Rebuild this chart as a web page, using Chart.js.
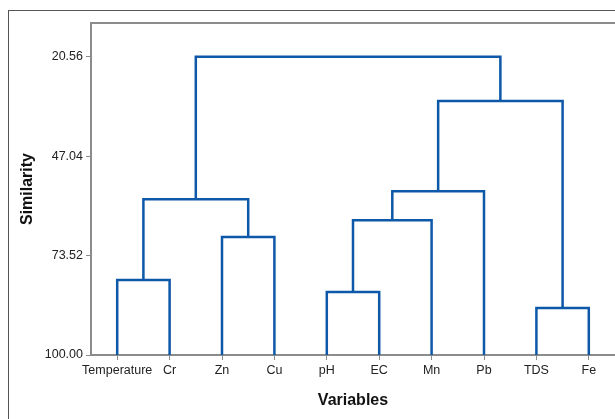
<!DOCTYPE html>
<html>
<head>
<meta charset="utf-8">
<script src="https://cdn.jsdelivr.net/npm/chart.js@4.4.1/dist/chart.umd.min.js"></script>
<style>
  html, body { margin: 0; padding: 0; background: #fff; overflow: hidden; }
  canvas { display: block; }
</style>
</head>
<body>
<canvas id="dendro" width="615" height="419"></canvas>
<script>
// Leaves, in the order they appear along the axis
const variables = ['Temperature', 'Cr', 'Zn', 'Cu', 'pH', 'EC', 'Mn', 'Pb', 'TDS', 'Fe'];

// Merge steps: node 10 + i joins mergeLeft[i] and mergeRight[i] at mergeHeight[i]
const mergeLeft   = [8, 4, 0, 2, 11, 12, 14, 16, 15];
const mergeRight  = [9, 5, 1, 3, 6, 13, 7, 10, 17];
const mergeHeight = [87.5, 83.2, 80.0, 68.6, 64.1, 58.5, 56.4, 32.4, 20.56];

const yTicks = [20.56, 47.04, 73.52, 100.00];

const LINE_COLOR = '#0d58a8';
const AXIS_COLOR = '#8c8c8c';
const FONT = 'Liberation Sans, Arial, sans-serif';

// position / height of each node (leaves sit at similarity 100)
const nodeX = variables.map((_, i) => i);
const nodeY = variables.map(() => 100);
const links = [];
mergeLeft.forEach((l, i) => {
    const r = mergeRight[i];
    const h = mergeHeight[i];
    links.push([
        { x: nodeX[l], y: nodeY[l] },
        { x: nodeX[l], y: h },
        { x: nodeX[r], y: h },
        { x: nodeX[r], y: nodeY[r] }
    ]);
    nodeX.push((nodeX[l] + nodeX[r]) / 2);
    nodeY.push(h);
});

const framePlugin = {
    id: 'frames',
    beforeDraw(chart) {
        const { ctx, chartArea } = chart;
        ctx.save();
        // outer frame (runs off the right/bottom edge)
        ctx.strokeStyle = '#555';
        ctx.lineWidth = 1;
        ctx.strokeRect(8.5, 10.5, 1000, 1000);
        // top edge of the plot box
        ctx.strokeStyle = AXIS_COLOR;
        ctx.lineWidth = 2;
        ctx.beginPath();
        ctx.moveTo(chartArea.left - 1, chartArea.top);
        ctx.lineTo(chartArea.right + 10, chartArea.top);
        ctx.stroke();
        ctx.restore();
    }
};

new Chart(document.getElementById('dendro'), {
    type: 'line',
    data: {
        datasets: links.map(pts => ({
            data: pts,
            borderColor: LINE_COLOR,
            borderWidth: 2.5,
            pointRadius: 0,
            tension: 0,
            fill: false,
            borderJoinStyle: 'miter'
        }))
    },
    options: {
        responsive: false,
        animation: false,
        layout: { padding: { top: 23, left: 0, right: 0, bottom: 0 } },
        plugins: {
            legend: { display: false },
            tooltip: { enabled: false }
        },
        scales: {
            x: {
                type: 'linear',
                min: -0.5,
                max: variables.length - 0.5,
                afterBuildTicks: scale => { scale.ticks = variables.map((_, i) => ({ value: i })); },
                afterFit: scale => { scale.height = 64; },
                ticks: {
                    autoSkip: false,
                    maxRotation: 0,
                    padding: 3,
                    color: '#222',
                    font: { family: FONT, size: 12.5 },
                    callback: v => variables[v]
                },
                grid: { drawOnChartArea: false, drawTicks: true, tickLength: 5, color: AXIS_COLOR, lineWidth: 1 },
                border: { color: AXIS_COLOR, width: 2 },
                title: {
                    display: true,
                    text: 'Variables',
                    color: '#111',
                    font: { family: FONT, size: 16, weight: 'bold' },
                    padding: { top: 0, bottom: 9 }
                }
            },
            y: {
                type: 'linear',
                reverse: true,
                min: 11.6,
                max: 100,
                afterBuildTicks: scale => { scale.ticks = yTicks.map(v => ({ value: v })); },
                afterFit: scale => { scale.width = 91; },
                ticks: {
                    padding: 3,
                    color: '#222',
                    font: { family: FONT, size: 12.5 },
                    callback: v => Number(v).toFixed(2)
                },
                grid: { drawOnChartArea: false, drawTicks: true, tickLength: 5, color: AXIS_COLOR, lineWidth: 1 },
                border: { color: AXIS_COLOR, width: 2 },
                title: {
                    display: true,
                    text: 'Similarity',
                    color: '#111',
                    font: { family: FONT, size: 16, weight: 'bold' },
                    padding: { top: 18, bottom: 0 }
                }
            }
        }
    },
    plugins: [framePlugin]
});
</script>
</body>
</html>
